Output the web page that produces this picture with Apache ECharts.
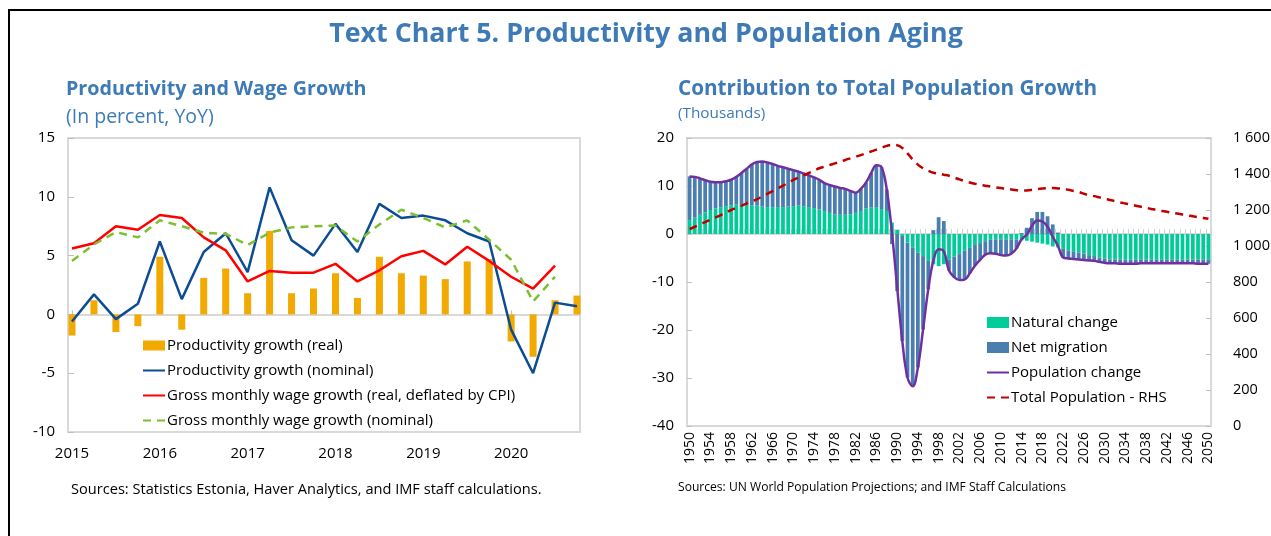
<!DOCTYPE html>
<html>
<head>
<meta charset="utf-8">
<title>Text Chart 5. Productivity and Population Aging</title>
<script src="https://cdn.jsdelivr.net/npm/echarts@6/dist/echarts.min.js"></script>
<style>
  html, body { margin: 0; padding: 0; background: #fff; }
  #chart { width: 1271px; height: 536px; }
</style>
</head>
<body>
<div id="chart"></div>
<script>
// ---- left panel: quarterly, in percent YoY ----
const quarters = [
  '2015Q1', '2015Q2', '2015Q3', '2015Q4', '2016Q1', '2016Q2', '2016Q3', '2016Q4',
  '2017Q1', '2017Q2', '2017Q3', '2017Q4', '2018Q1', '2018Q2', '2018Q3', '2018Q4',
  '2019Q1', '2019Q2', '2019Q3', '2019Q4', '2020Q1', '2020Q2', '2020Q3', '2020Q4'
];
const prodReal = [-1.8, 1.2, -1.5, -1.0, 4.9, -1.3, 3.1, 3.9, 1.8, 7.1, 1.8, 2.2,
  3.5, 1.4, 4.9, 3.5, 3.3, 3.0, 4.5, 4.7, -2.3, -3.6, 1.2, 1.6];
const prodNominal = [-0.6, 1.7, -0.4, 0.9, 6.2, 1.3, 5.3, 6.9, 3.6, 10.8, 6.3, 5.0,
  7.7, 5.3, 9.4, 8.2, 8.4, 8.0, 6.9, 6.2, -1.3, -5.0, 1.0, 0.7];
const wageReal = [5.6, 6.05, 7.5, 7.2, 8.45, 8.2, 6.55, 5.45, 2.8, 3.7, 3.55, 3.55,
  4.3, 2.8, 3.75, 4.95, 5.4, 4.25, 5.75, 4.55, 3.2, 2.2, 4.15, null];
const wageNominal = [4.55, 5.95, 7.0, 6.55, 8.0, 7.5, 6.95, 6.85, 5.9, 6.95, 7.4, 7.5,
  7.55, 6.2, 7.65, 8.9, 8.2, 7.4, 8.0, 6.35, 4.65, 1.1, 3.2, null];

// ---- right panel: annual 1950-2050, thousands ----
const years = Array.from({ length: 101 }, (_, i) => String(1950 + i));
const natural = [
  2.9, 3.4, 4.0, 4.5, 5.0, 5.35, 5.6, 5.8, 6.0, 6.1,
  6.1, 6.1, 6.0, 5.9, 5.7, 5.6, 5.6, 5.6, 5.6, 5.7,
  5.8, 5.9, 5.8, 5.6, 5.4, 5.1, 4.8, 4.4, 4.1, 4.0,
  4.0, 4.1, 4.4, 4.8, 5.3, 5.5, 5.6, 5.2, 4.8, 2.4,
  0.9, -0.4, -1.8, -2.9, -3.9, -4.6, -5.6, -6.3, -6.7, -6.3,
  -5.3, -4.7, -4.2, -3.5, -2.9, -2.3, -1.9, -1.5, -1.2, -1.1,
  -1.1, -1.1, -1.1, -1.2, -1.3, -1.4, -1.6, -1.8, -2.0, -2.2,
  -2.6, -2.8, -3.1, -3.4, -3.6, -3.9, -4.1, -4.4, -4.6, -4.9,
  -5.1, -5.3, -5.3, -5.3, -5.3, -5.3, -5.3, -5.3, -5.3, -5.3,
  -5.3, -5.3, -5.3, -5.3, -5.3, -5.3, -5.3, -5.3, -5.3, -5.3,
  -5.3
];
const migration = [
  9.1, 8.5, 7.6, 6.7, 5.9, 5.45, 5.2, 5.2, 5.3, 5.8,
  6.6, 7.5, 8.5, 9.1, 9.4, 9.3, 9.0, 8.6, 8.3, 7.9,
  7.5, 7.1, 6.8, 6.6, 6.4, 6.2, 5.8, 5.8, 5.8, 5.6,
  5.4, 4.9, 4.2, 4.6, 5.4, 7.2, 8.7, 8.7, 4.5, -2.1,
  -11.9, -21.9, -28.1, -28.8, -23.9, -15.3, -5.9, 0.8, 3.5, 2.7,
  -2.3, -4.3, -5.4, -6.0, -5.3, -4.3, -3.5, -2.8, -2.8, -3.0,
  -3.3, -3.4, -3.0, -1.8, 0.2, 1.3, 3.3, 4.6, 4.6, 3.7,
  2.0, 0.3, -1.8, -1.7, -1.6, -1.4, -1.3, -1.1, -1.0, -0.9,
  -0.9, -0.8, -0.8, -0.9, -0.9, -0.9, -0.9, -0.8, -0.8, -0.8,
  -0.8, -0.8, -0.8, -0.8, -0.8, -0.8, -0.8, -0.8, -0.9, -0.9,
  -0.9
];
const popChange = [
  12.0, 11.9, 11.6, 11.2, 10.9, 10.8, 10.8, 11.0, 11.3, 11.9,
  12.7, 13.6, 14.5, 15.0, 15.1, 14.9, 14.6, 14.2, 13.9, 13.6,
  13.3, 13.0, 12.6, 12.2, 11.8, 11.3, 10.6, 10.2, 9.9, 9.6,
  9.4, 9.0, 8.6, 9.4, 10.7, 12.7, 14.3, 13.9, 9.3, 0.3,
  -11.0, -22.3, -29.9, -31.7, -27.8, -19.9, -11.5, -5.5, -3.2, -3.6,
  -7.6, -9.0, -9.6, -9.5, -8.2, -6.6, -5.4, -4.3, -4.0, -4.1,
  -4.4, -4.5, -4.1, -3.0, -1.1, -0.1, 1.7, 2.8, 2.6, 1.5,
  -0.6, -2.5, -4.9, -5.1, -5.2, -5.3, -5.4, -5.5, -5.6, -5.8,
  -6.0, -6.1, -6.1, -6.2, -6.2, -6.2, -6.2, -6.1, -6.1, -6.1,
  -6.1, -6.1, -6.1, -6.1, -6.1, -6.1, -6.1, -6.1, -6.2, -6.2,
  -6.2
];
const totalPop = [
  1094, 1107, 1120, 1133, 1146, 1159, 1172, 1186, 1200, 1212,
  1224, 1236, 1248, 1260, 1275, 1290, 1305, 1320, 1335, 1351,
  1367, 1380, 1393, 1406, 1419, 1432, 1441, 1450, 1459, 1468,
  1478, 1487, 1496, 1505, 1515, 1525, 1535, 1546, 1556, 1562,
  1560, 1545, 1515, 1480, 1452, 1432, 1418, 1407, 1402, 1396,
  1390, 1380, 1370, 1361, 1353, 1346, 1340, 1335, 1330, 1326,
  1322, 1318, 1314, 1310, 1308, 1309, 1312, 1316, 1319, 1321,
  1322, 1320, 1317, 1312, 1306, 1300, 1290, 1283, 1277, 1270,
  1263, 1256, 1249, 1242, 1236, 1230, 1224, 1218, 1212, 1206,
  1200, 1195, 1190, 1185, 1180, 1175, 1170, 1165, 1160, 1156,
  1152
];

const blue = '#3E7BB6';
const frameGray = '#D9D9D9';
const tickGray = '#BFBFBF';
const noSymbol = { opacity: 0 };

const chart = echarts.init(document.getElementById('chart'));

const option = {
  animation: false,
  backgroundColor: '#fff',
  textStyle: { fontFamily: 'Open Sans' },
  title: [
    { text: 'Text Chart 5. Productivity and Population Aging', left: 646, top: 21, textAlign: 'center', padding: 0,
      textStyle: { fontSize: 26.8, fontWeight: 'bold', color: blue } },
    { text: 'Productivity and Wage Growth', left: 66, top: 79, padding: 0,
      textStyle: { fontSize: 19.7, fontWeight: 'bold', color: blue } },
    { text: '(In percent, YoY)', left: 66, top: 107, padding: 0,
      textStyle: { fontSize: 19.5, fontWeight: 'normal', color: blue } },
    { text: 'Contribution to Total Population Growth', left: 678, top: 79, padding: 0,
      textStyle: { fontSize: 20.7, fontWeight: 'bold', color: blue } },
    { text: '(Thousands)', left: 678, top: 106, padding: 0,
      textStyle: { fontSize: 15.3, fontWeight: 'normal', color: blue } },
    { text: 'Sources: Statistics Estonia, Haver Analytics, and IMF staff calculations.', left: 71, top: 482, padding: 0,
      textStyle: { fontSize: 14.6, fontWeight: 'normal', color: '#000' } },
    { text: 'Sources: UN World Population Projections; and IMF Staff Calculations', left: 678, top: 482, padding: 0,
      textStyle: { fontSize: 12.1, fontWeight: 'normal', color: '#000' } }
  ],
  graphic: [
    { type: 'polyline', shape: { points: [[9, 536], [9, 10], [1271, 10]] },
      style: { stroke: '#000', lineWidth: 2, fill: null } }
  ],
  legend: [
    {
      data: [
        { name: 'Productivity growth (real)', icon: 'rect' },
        { name: 'Productivity growth (nominal)', itemStyle: noSymbol },
        { name: 'Gross monthly wage growth (real, deflated by CPI)', itemStyle: noSymbol },
        { name: 'Gross monthly wage growth (nominal)', itemStyle: noSymbol }
      ],
      orient: 'vertical', left: 142, top: 338, padding: 0,
      itemWidth: 22, itemHeight: 10, itemGap: 10,
      textStyle: { fontSize: 15, color: '#000', padding: [0, 0, 0, -3] }
    },
    {
      data: [
        { name: 'Natural change', icon: 'rect' },
        { name: 'Net migration', icon: 'rect' },
        { name: 'Population change', itemStyle: noSymbol },
        { name: 'Total Population - RHS', itemStyle: noSymbol }
      ],
      orient: 'vertical', left: 986, top: 315, padding: 0,
      itemWidth: 22, itemHeight: 11, itemGap: 10,
      textStyle: { fontSize: 15, color: '#000', padding: [0, 0, 0, -3] }
    }
  ],
  grid: [
    // left frame + zero line
    { left: 68, top: 138, width: 512, height: 294, show: true, borderColor: frameGray, borderWidth: 2,
      outerBoundsMode: 'none' },
    // left data area
    { left: 72, top: 138, width: 505, height: 294, outerBoundsMode: 'none' },
    // right
    { left: 687, top: 138, width: 524, height: 288, show: true, borderColor: frameGray, borderWidth: 2,
      outerBoundsMode: 'none' }
  ],
  xAxis: [
    { gridIndex: 0, type: 'value', min: 0, max: 1,
      axisLine: { onZero: true, lineStyle: { color: frameGray, width: 2 } },
      axisTick: { show: false }, axisLabel: { show: false }, splitLine: { show: false } },
    { gridIndex: 1, type: 'category', data: quarters, boundaryGap: false,
      axisLine: { show: false, onZero: false }, axisTick: { show: false },
      axisLabel: { interval: 3, formatter: v => v.slice(0, 4), margin: 14, fontSize: 15, color: '#000' } },
    { gridIndex: 1, type: 'category', data: quarters, boundaryGap: false, position: 'top',
      axisLine: { onZero: true, lineStyle: { color: frameGray, width: 2 } },
      axisTick: { show: true, interval: 3, length: 4, lineStyle: { color: tickGray } },
      axisLabel: { show: false } },
    { gridIndex: 2, type: 'category', data: years,
      axisLine: { show: false, onZero: false }, axisTick: { show: false },
      axisLabel: { interval: 3, rotate: 90, margin: 6, fontSize: 14, color: '#000' } },
    { gridIndex: 2, type: 'category', data: years, position: 'top',
      axisLine: { onZero: true, lineStyle: { color: frameGray, width: 2 } },
      axisTick: { show: true, interval: 0, length: 5, lineStyle: { color: '#D0D0D0' } },
      axisLabel: { show: false } }
  ],
  yAxis: [
    { gridIndex: 0, type: 'value', min: -10, max: 15, interval: 5,
      axisLine: { show: true, lineStyle: { color: frameGray, width: 2 } },
      axisTick: { show: true, inside: true, length: 6, lineStyle: { color: tickGray } },
      axisLabel: { margin: 13, fontSize: 15, color: '#000' }, splitLine: { show: false } },
    { gridIndex: 1, type: 'value', min: -10, max: 15, interval: 5, show: false },
    { gridIndex: 2, type: 'value', min: -40, max: 20, interval: 10, position: 'left',
      axisLine: { show: true, lineStyle: { color: frameGray, width: 2 } },
      axisTick: { show: true, inside: true, length: 5, lineStyle: { color: tickGray } },
      axisLabel: { margin: 13, fontSize: 15, color: '#000' }, splitLine: { show: false } },
    { gridIndex: 2, type: 'value', min: 0, max: 1600, interval: 200, position: 'right',
      axisLine: { show: true, lineStyle: { color: frameGray, width: 2 } },
      axisTick: { show: true, inside: true, length: 5, lineStyle: { color: tickGray } },
      axisLabel: { margin: 22, fontSize: 14.5, color: '#000',
        formatter: v => String(v).replace(/\B(?=(\d{3})+(?!\d))/g, ' ') },
      splitLine: { show: false } }
  ],
  series: [
    { name: 'Productivity growth (real)', type: 'bar', xAxisIndex: 1, yAxisIndex: 1,
      data: prodReal, barWidth: 7, clip: false, itemStyle: { color: '#F2A900' } },
    { name: 'Productivity growth (nominal)', type: 'line', xAxisIndex: 1, yAxisIndex: 1,
      data: prodNominal, symbol: 'none', itemStyle: { color: '#0B4C94' },
      lineStyle: { color: '#0B4C94', width: 2.5 } },
    { name: 'Gross monthly wage growth (real, deflated by CPI)', type: 'line', xAxisIndex: 1, yAxisIndex: 1,
      data: wageReal, symbol: 'none', itemStyle: { color: '#FF0000' },
      lineStyle: { color: '#FF0000', width: 2.5 } },
    { name: 'Gross monthly wage growth (nominal)', type: 'line', xAxisIndex: 1, yAxisIndex: 1,
      data: wageNominal, symbol: 'none', itemStyle: { color: '#7DC02F' },
      lineStyle: { color: '#7DC02F', width: 2.5, type: [8, 6] } },

    { name: 'Natural change', type: 'bar', xAxisIndex: 3, yAxisIndex: 2, stack: 'pop',
      data: natural, barWidth: '72%', itemStyle: { color: '#00CC99' } },
    { name: 'Net migration', type: 'bar', xAxisIndex: 3, yAxisIndex: 2, stack: 'pop',
      data: migration, itemStyle: { color: '#4A7EB0' } },
    { name: 'Population change', type: 'line', xAxisIndex: 3, yAxisIndex: 2,
      data: popChange, smooth: 0.4, symbol: 'none', itemStyle: { color: '#7030A0' },
      lineStyle: { color: '#7030A0', width: 2.5 } },
    { name: 'Total Population - RHS', type: 'line', xAxisIndex: 3, yAxisIndex: 3,
      data: totalPop, smooth: 0.4, symbol: 'none', itemStyle: { color: '#C00000' },
      lineStyle: { color: '#C00000', width: 2.5, type: [8, 6] } }
  ]
};

chart.setOption(option);
</script>
</body>
</html>
